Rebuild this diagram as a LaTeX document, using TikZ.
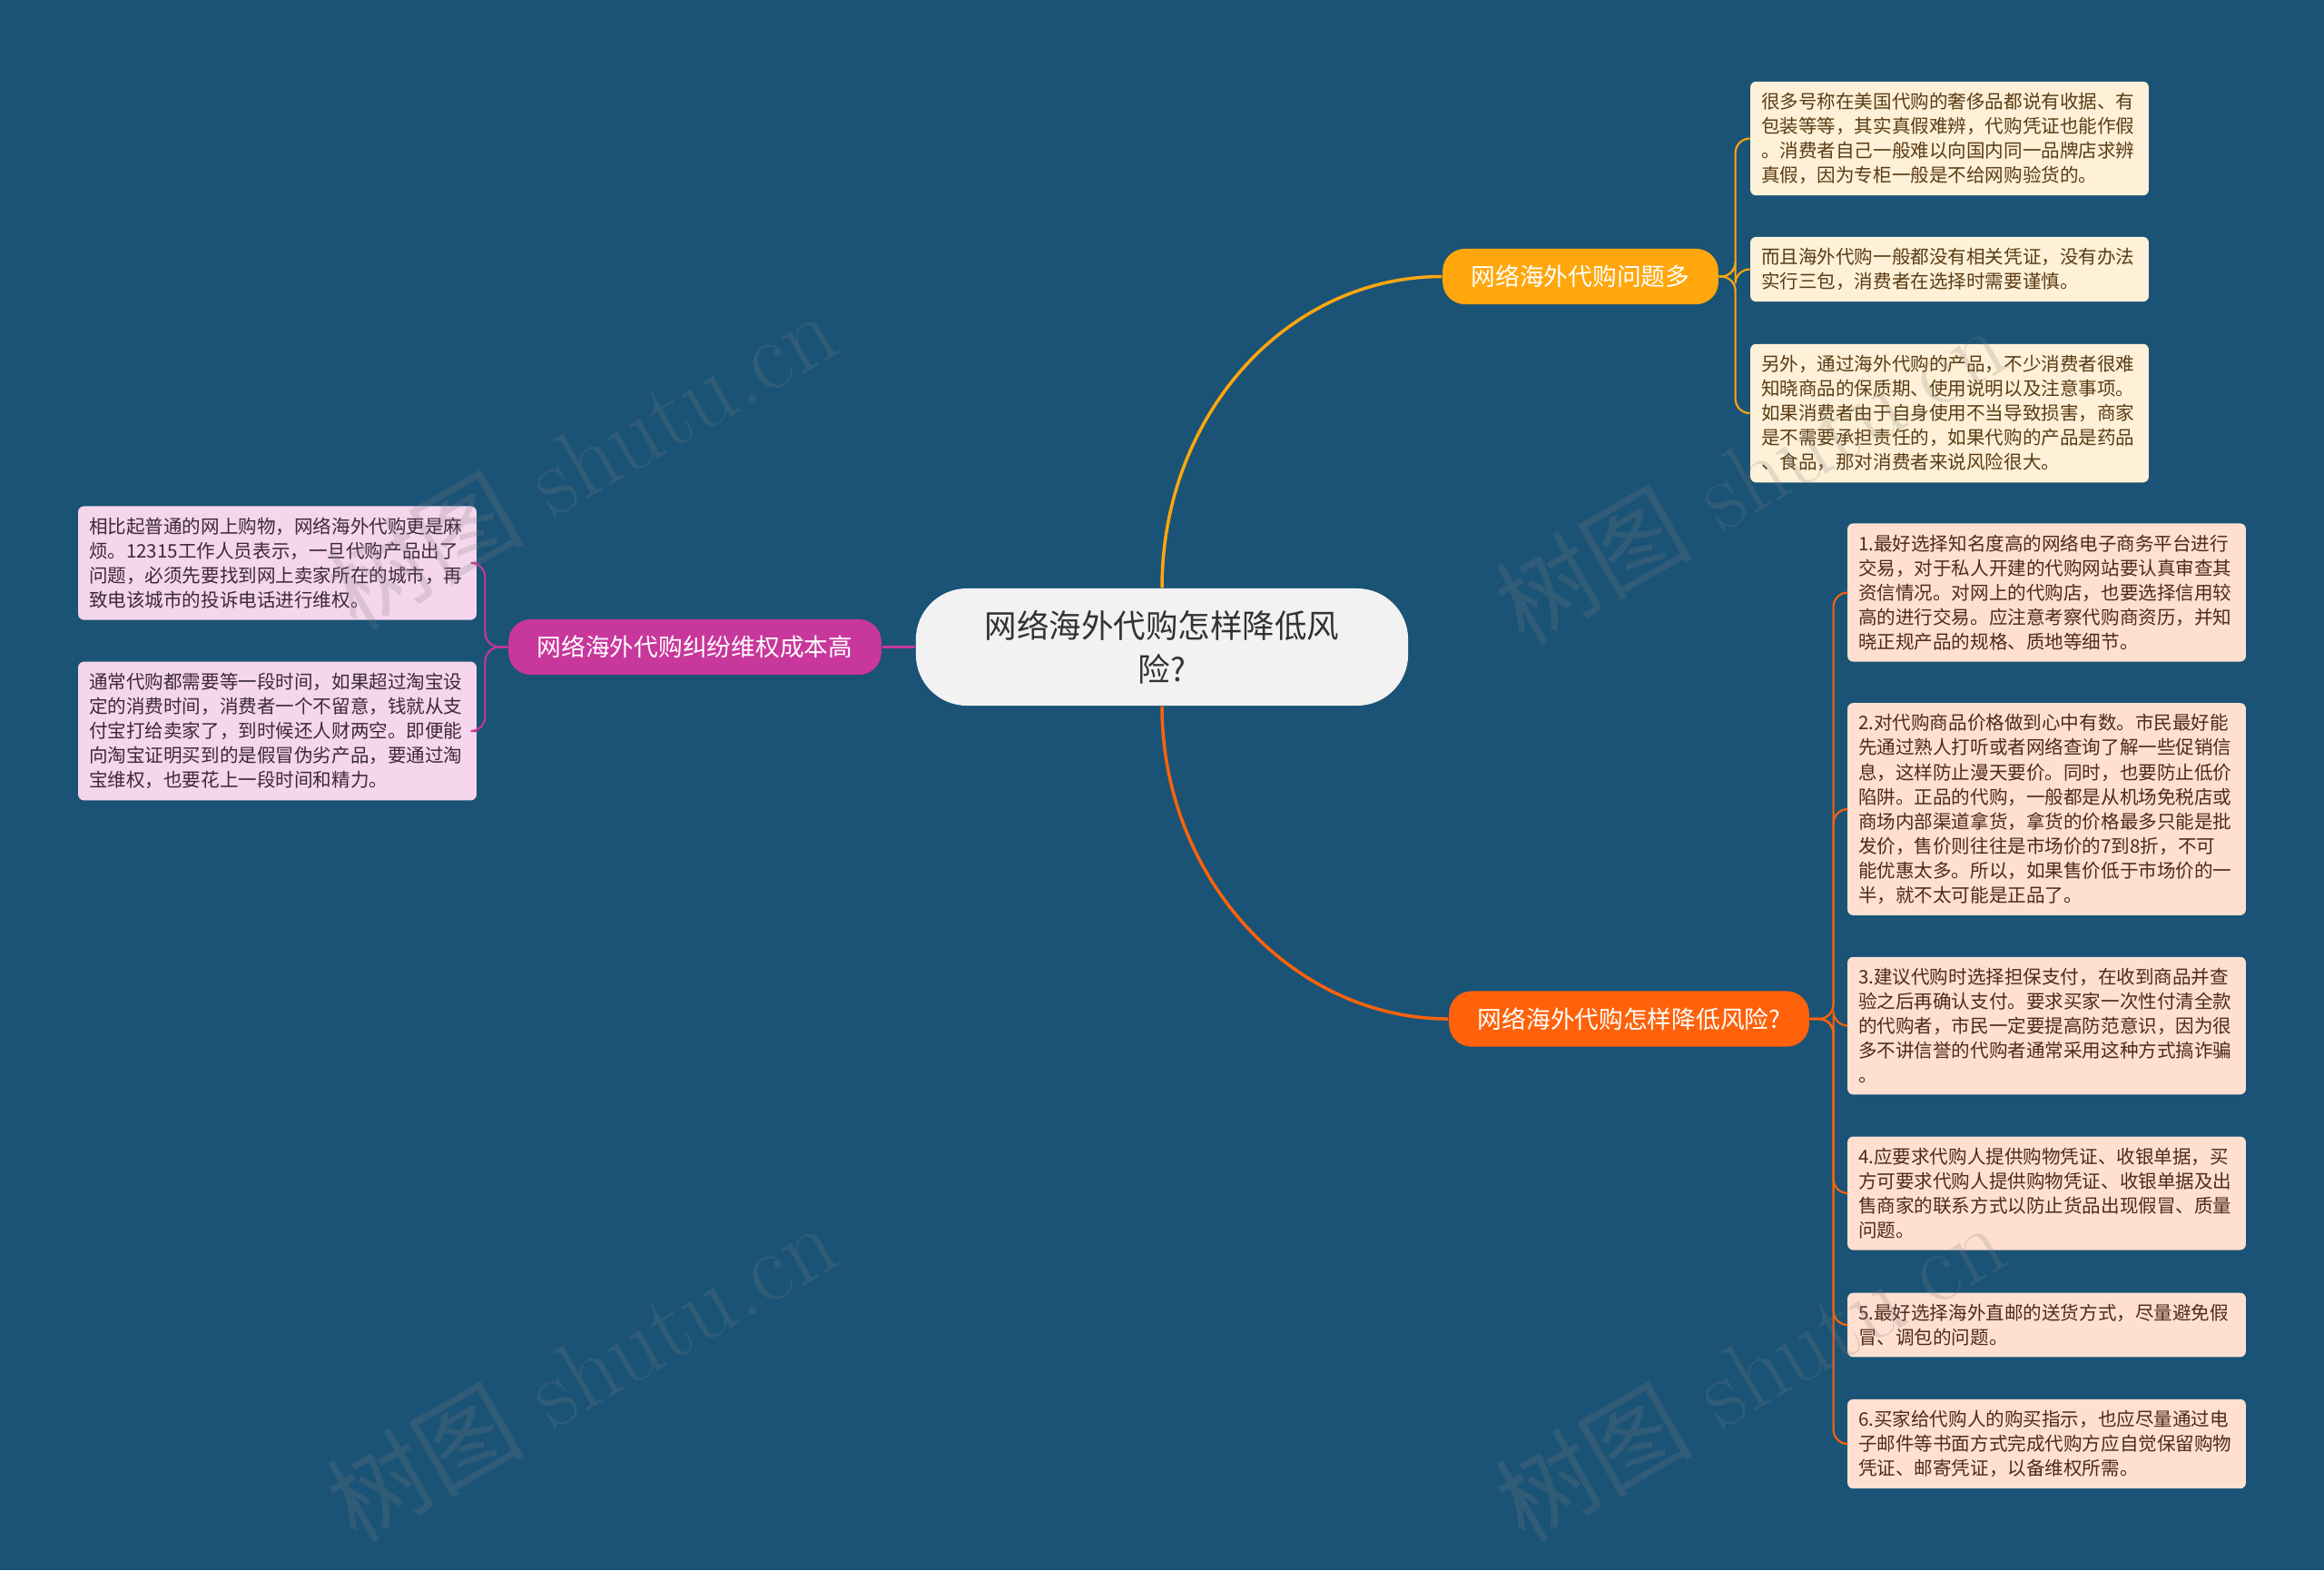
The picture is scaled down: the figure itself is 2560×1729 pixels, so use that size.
\documentclass[tikz,border=0pt]{standalone}
\usepackage{fontspec}
\newfontfamily\cjk{Noto Sans CJK SC}
\definecolor{bgblue}{RGB}{26,83,118}
\definecolor{rootfill}{RGB}{242,242,242}
\definecolor{goldline}{RGB}{255,167,13}
\definecolor{redline}{RGB}{255,98,10}
\definecolor{pinkline}{RGB}{200,55,155}
\definecolor{creamfill}{RGB}{255,241,216}
\definecolor{peachfill}{RGB}{255,224,208}
\definecolor{pinkfill}{RGB}{246,214,236}
\definecolor{browntext}{RGB}{90,60,20}
\definecolor{peachtext}{RGB}{80,40,30}
\definecolor{pinktext}{RGB}{60,40,60}

\begin{document}
\begin{tikzpicture}[x=0.01cm,y=-0.01cm,
    rootbox/.style={fill=rootfill,rounded corners=16pt,minimum width=154.2pt,minimum height=36.7pt,
        align=center,text={rgb,255:red,50;green,50;blue,50},font=\cjk\fontsize{10.1pt}{13.7pt}\selectfont},
    topicbox/.style={fill=#1,rounded corners=7pt,minimum height=17.4pt,inner xsep=9pt,inner ysep=0pt,
        text=white,font=\cjk\fontsize{7.6pt}{9pt}\selectfont},
    leafbox/.style={fill=#1,rounded corners=1.8pt,text width=118pt,align=left,inner xsep=3.4pt,inner ysep=3.5pt,
        font=\cjk\fontsize{5.85pt}{7.7pt}\selectfont},
    twig/.style={draw=#1,line width=0.6pt,rounded corners=4.5pt}]
    \fill[bgblue] (0,0) rectangle (2560,1729);
    \useasboundingbox (0,0) rectangle (2560,1729);

    \node[rootbox] (root) at (1280,712.5) {网络海外代购怎样降低风\\险?};
    \node[topicbox=goldline] (prob) at (1741,304.5) {网络海外代购问题多};
    \node[topicbox=redline] (risk) at (1794.5,1122) {网络海外代购怎样降低风险?};
    \node[topicbox=pinkline] (cost) at (765.5,712.5) {网络海外代购纠纷维权成本高};

    %problem leaves
    \node[leafbox=creamfill,text=browntext] (p1) at (2147.5,152.5) {很多号称在美国代购的奢侈品都说有收据、有\\包装等等，其实真假难辨，代购凭证也能作假\\。消费者自己一般难以向国内同一品牌店求辨\\真假，因为专柜一般是不给网购验货的。};
    \node[leafbox=creamfill,text=browntext] (p2) at (2147.5,296.5) {而且海外代购一般都没有相关凭证，没有办法\\实行三包，消费者在选择时需要谨慎。};
    \node[leafbox=creamfill,text=browntext] (p3) at (2147.5,455) {另外，通过海外代购的产品，不少消费者很难\\知晓商品的保质期、使用说明以及注意事项。\\如果消费者由于自身使用不当导致损害，商家\\是不需要承担责任的，如果代购的产品是药品\\、食品，那对消费者来说风险很大。};

    %risk leaves
    \node[leafbox=peachfill,text=peachtext] (r1) at (2254.5,652.5) {1.最好选择知名度高的网络电子商务平台进行\\交易，对于私人开建的代购网站要认真审查其\\资信情况。对网上的代购店，也要选择信用较\\高的进行交易。应注意考察代购商资历，并知\\晓正规产品的规格、质地等细节。};
    \node[leafbox=peachfill,text=peachtext] (r2) at (2254.5,891) {2.对代购商品价格做到心中有数。市民最好能\\先通过熟人打听或者网络查询了解一些促销信\\息，这样防止漫天要价。同时，也要防止低价\\陷阱。正品的代购，一般都是从机场免税店或\\商场内部渠道拿货，拿货的价格最多只能是批\\发价，售价则往往是市场价的7到8折，不可\\能优惠太多。所以，如果售价低于市场价的一\\半，就不太可能是正品了。};
    \node[leafbox=peachfill,text=peachtext] (r3) at (2254.5,1129.5) {3.建议代购时选择担保支付，在收到商品并查\\验之后再确认支付。要求买家一次性付清全款\\的代购者，市民一定要提高防范意识，因为很\\多不讲信誉的代购者通常采用这种方式搞诈骗\\。};
    \node[leafbox=peachfill,text=peachtext] (r4) at (2254.5,1314) {4.应要求代购人提供购物凭证、收银单据，买\\方可要求代购人提供购物凭证、收银单据及出\\售商家的联系方式以防止货品出现假冒、质量\\问题。};
    \node[leafbox=peachfill,text=peachtext] (r5) at (2254.5,1459) {5.最好选择海外直邮的送货方式，尽量避免假\\冒、调包的问题。};
    \node[leafbox=peachfill,text=peachtext] (r6) at (2254.5,1590) {6.买家给代购人的购买指示，也应尽量通过电\\子邮件等书面方式完成代购方应自觉保留购物\\凭证、邮寄凭证，以备维权所需。};

    %cost leaves
    \node[leafbox=pinkfill,text=pinktext] (c1) at (305.5,620) {相比起普通的网上购物，网络海外代购更是麻\\烦。12315工作人员表示，一旦代购产品出了\\问题，必须先要找到网上卖家所在的城市，再\\致电该城市的投诉电话进行维权。};
    \node[leafbox=pinkfill,text=pinktext] (c2) at (305.5,805) {通常代购都需要等一段时间，如果超过淘宝设\\定的消费时间，消费者一个不留意，钱就从支\\付宝打给卖家了，到时候还人财两空。即便能\\向淘宝证明买到的是假冒伪劣产品，要通过淘\\宝维权，也要花上一段时间和精力。};

    %main branches
    \draw[goldline,line width=1pt] (root.north) .. controls +(0,-190) and +(-171,0) .. (prob.west);
    \draw[redline,line width=1pt] (root.south) .. controls +(0,190) and +(-171,0) .. (risk.west);
    \draw[pinkline,line width=1pt] (root.west) -- (cost.east);

    \foreach \leaf in {p1,p2,p3}
        \draw[twig=goldline] (prob.east) -- ++(18,0) |- (\leaf.west);
    \foreach \leaf in {r1,r2,r3,r4,r5,r6}
        \draw[twig=redline] (risk.east) -- ++(26,0) |- (\leaf.west);
    \foreach \leaf in {c1,c2}
        \draw[twig=pinkline] (cost.west) -- ++(-25,0) |- (\leaf.east);

    %watermarks
    \foreach \wx/\wy [count=\i] in {640/506,1927/522,640/1510,1927/1510}
        \node[rotate=30,text=gray,text opacity=0.22,font=\fontsize{31pt}{31pt}\selectfont] (mark\i) at (\wx,\wy) {{\cjk 树图} shutu.cn};
\end{tikzpicture}
\end{document}
